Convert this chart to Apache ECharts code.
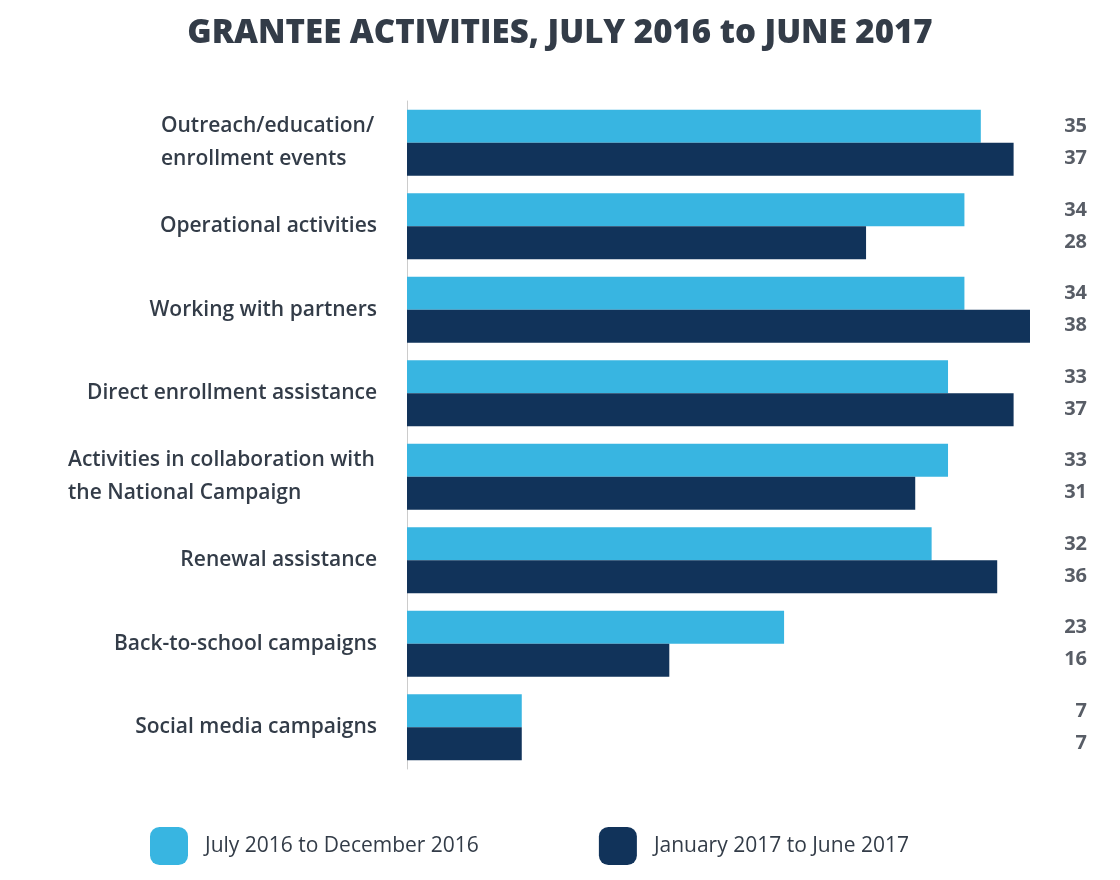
<!DOCTYPE html><html><head><meta charset="utf-8">
<script src="https://cdn.jsdelivr.net/npm/echarts@6/dist/echarts.min.js"></script>
<style>body{margin:0}#c{width:1120px;height:880px}</style></head><body><div id="c"></div><script>
const categories=["Outreach/education/\nenrollment events","Operational activities","Working with partners","Direct enrollment assistance","Activities in collaboration with\nthe National Campaign","Renewal assistance","Back-to-school campaigns","Social media campaigns"];
const seriesNames=["July 2016 to December 2016","January 2017 to June 2017"];
const first=[35,34,34,33,33,32,23,7];
const second=[37,28,38,37,31,36,16,7];
const MAX=38;
const font="Open Sans";
const txt="#333c48";
const LBL='600 21px "Open Sans"';
const ctx=document.createElement('canvas').getContext('2d');ctx.font=LBL;
function fmtCat(v){
 const lines=v.split('\n');
 if(lines.length===1) return v;
 const w=Math.ceil(Math.max(...lines.map(l=>ctx.measureText(l).width)))+2;
 return lines.map(l=>'{m'+w+'|'+l+'}').join('\n');
}
const rich={};
categories.forEach(v=>{const lines=v.split('\n');if(lines.length>1){const w=Math.ceil(Math.max(...lines.map(l=>ctx.measureText(l).width)))+2;rich['m'+w]={width:w,align:'left',fontFamily:font,fontWeight:600,fontSize:21,color:txt,lineHeight:33};}});
const c=echarts.init(document.getElementById('c'));
function labelSeries(vals,dy){return {type:'scatter',data:vals.map((v,i)=>[MAX,categories[i],v]),symbolSize:0,silent:true,tooltip:{show:false},
 label:{show:true,position:'right',offset:[52,dy],align:'right',formatter:p=>p.value[2],color:'#2e3540',fontFamily:font,fontWeight:'bold',fontSize:20}};}
c.setOption({
 textStyle:{fontFamily:font},
 title:{text:'GRANTEE ACTIVITIES, JULY 2016 to JUNE 2017',left:'center',top:12,textStyle:{fontFamily:font,fontWeight:800,fontSize:33,color:txt}},
 legend:{data:seriesNames,bottom:10,left:145,itemWidth:38,itemHeight:38,itemGap:120,icon:'roundRect',textStyle:{fontFamily:font,fontSize:21,color:txt,padding:[0,0,0,12]}},
 grid:{left:407,right:90,top:101,bottom:111},
 xAxis:{type:'value',min:0,max:MAX,show:false},
 yAxis:{type:'category',data:categories,inverse:true,axisTick:{show:false},axisLine:{lineStyle:{color:'#cccccc'}},
  axisLabel:{color:txt,fontFamily:font,fontWeight:600,fontSize:21,margin:30,lineHeight:33,align:'right',formatter:fmtCat,rich:rich}},
 series:[
  {name:seriesNames[0],type:'bar',data:first,itemStyle:{color:'#38b5e1'},barGap:'0%',barCategoryGap:'21%'},
  {name:seriesNames[1],type:'bar',data:second,itemStyle:{color:'#11335a'}},
  labelSeries(first,-16),labelSeries(second,16)
 ]
});
</script></body></html>
